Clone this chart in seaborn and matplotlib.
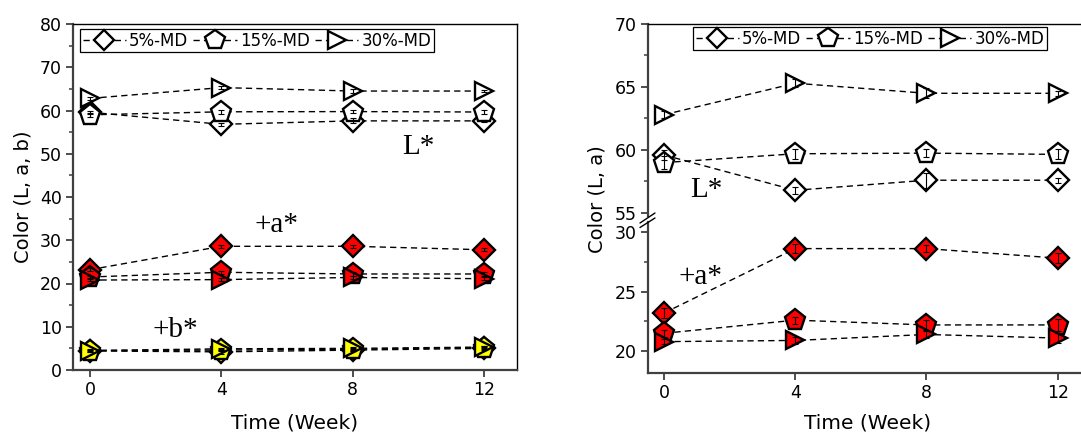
import numpy as np
import matplotlib
matplotlib.use("Agg")
import matplotlib.pyplot as plt
from matplotlib.lines import Line2D
from matplotlib.ticker import MultipleLocator
import seaborn as sns

# ---- data -------------------------------------------------------------
weeks = [0, 4, 8, 12]
groups = ["5%-MD", "15%-MD", "30%-MD"]

L_5 = [59.6, 56.8, 57.6, 57.6]
L_15 = [59.0, 59.7, 59.75, 59.65]
L_30 = [62.8, 65.3, 64.5, 64.5]

a_5 = [23.2, 28.6, 28.6, 27.8]
a_15 = [21.5, 22.6, 22.2, 22.2]
a_30 = [20.8, 20.9, 21.4, 21.1]

b_5 = [4.4, 4.2, 4.6, 5.0]
b_15 = [4.5, 4.6, 4.8, 5.2]
b_30 = [4.5, 4.9, 5.0, 5.3]

L_5_err = [0.4, 0.3, 0.6, 0.2]
L_15_err = [0.5, 0.4, 0.3, 0.4]
L_30_err = [0.3, 0.3, 0.4, 0.2]
a_5_err = [0.4, 0.4, 0.3, 0.4]
a_15_err = [0.3, 0.3, 0.4, 0.5]
a_30_err = [0.2, 0.3, 0.3, 0.4]
b_5_err = [0.3, 0.4, 0.3, 0.3]
b_15_err = [0.3, 0.3, 0.4, 0.3]
b_30_err = [0.2, 0.3, 0.3, 0.3]

L_series = [L_5, L_15, L_30]
a_series = [a_5, a_15, a_30]
b_series = [b_5, b_15, b_30]
L_errs = [L_5_err, L_15_err, L_30_err]
a_errs = [a_5_err, a_15_err, a_30_err]
b_errs = [b_5_err, b_15_err, b_30_err]

# ---- style ------------------------------------------------------------
sns.set_style("ticks")
plt.rcParams["font.family"] = ["DejaVu Sans"]
plt.rcParams["text.color"] = "black"
plt.rcParams["axes.labelcolor"] = "black"
plt.rcParams["xtick.labelcolor"] = "black"
plt.rcParams["ytick.labelcolor"] = "black"

W, H = 1081, 441
fig = plt.figure(figsize=(W / 100, H / 100), dpi=100)

markers = ["D", "p", ">"]
msizes = [11, 15.5, 13.5]
dash = (0, (4.5, 3))
SPINE = "#404040"
TICK_FS = 12.5
LABEL_FS = 14


def fx(px):
    return px / W


def fy(py):
    return 1 - py / H


def draw_series(ax, series, errs, face):
    for vals, err, mk, ms in zip(series, errs, markers, msizes):
        sns.lineplot(x=weeks, y=vals, ax=ax, color="black", linewidth=1.0,
                     linestyle=dash, marker=mk, markersize=ms,
                     markerfacecolor=face, markeredgecolor="black",
                     markeredgewidth=1.7, errorbar=None, legend=False,
                     zorder=3)
        ax.errorbar(weeks, vals, yerr=err, fmt="none", ecolor="black",
                    elinewidth=0.8, capsize=2.5, capthick=0.8, zorder=4)


def style_axis(ax):
    for side in ("left", "bottom"):
        ax.spines[side].set_color(SPINE)
        ax.spines[side].set_linewidth(1.6)
    for side in ("top", "right"):
        ax.spines[side].set_color("black")
        ax.spines[side].set_linewidth(1.0)
    ax.tick_params(which="major", direction="out", length=5, width=1.3,
                   color=SPINE, labelsize=TICK_FS, labelcolor="black", pad=3)
    ax.tick_params(which="minor", direction="out", length=3, width=1.1,
                   color=SPINE)
    ax.tick_params(axis="x", which="minor", length=0)
    ax.set_xlabel("")
    ax.set_ylabel("")


def legend_handles():
    hs = []
    for mk, ms, name in zip(markers, msizes, groups):
        hs.append(Line2D([], [], color="black", linewidth=1.0, linestyle=dash,
                         marker=mk, markersize=ms * 0.95, markerfacecolor="white",
                         markeredgecolor="black", markeredgewidth=1.7,
                         label=name))
    return hs


def add_legend(anchor_px):
    leg = fig.legend(handles=legend_handles(), loc="upper left",
                     bbox_to_anchor=(fx(anchor_px[0]), fy(anchor_px[1])),
                     bbox_transform=fig.transFigure, ncol=3, fontsize=12,
                     frameon=True, fancybox=False, edgecolor="black",
                     framealpha=1, borderpad=0.15, borderaxespad=0,
                     handlelength=2.6, handletextpad=0.2,
                     columnspacing=0.3, markerscale=1.0)
    leg.get_frame().set_linewidth(0.9)
    for t in leg.get_texts():
        t.set_color("black")
    return leg


# ---- left panel: L*, a*, b* ---------------------------------------------
axL = fig.add_axes([fx(73), fy(370), fx(517 - 73), (370 - 24) / H])
draw_series(axL, L_series, L_errs, "white")
draw_series(axL, a_series, a_errs, "#ff0000")
draw_series(axL, b_series, b_errs, "#ffff00")
axL.set_xlim(-0.52, 13.0)
axL.set_ylim(0, 80)
axL.set_xticks(weeks)
axL.yaxis.set_major_locator(MultipleLocator(10))
axL.yaxis.set_minor_locator(MultipleLocator(5))
style_axis(axL)

serif = ["Liberation Serif", "DejaVu Serif"]
axL.text(9.5, 51.5, "L*", family=serif, fontsize=21, ha="left", va="center",
         color="black")
axL.text(5.0, 33.5, "+a*", family=serif, fontsize=21, ha="left", va="center",
         color="black")
axL.text(1.9, 9.2, "+b*", family=serif, fontsize=21, ha="left", va="center",
         color="black")

add_legend((80, 29))

fig.text(fx(23), fy(197), "Color (L, a, b)", rotation=90, ha="center",
         va="center", fontsize=LABEL_FS, color="black")
fig.text(fx(295), fy(423), "Time (Week)", ha="center", va="center",
         fontsize=LABEL_FS + 0.5, color="black")

# ---- right panel: broken axis, L* above and a* below ------------------
xlim_r = (-0.49, 12.71)
axU = fig.add_axes([fx(648), fy(216), 1 - fx(648), (216 - 24) / H])
axB = fig.add_axes([fx(648), fy(373), 1 - fx(648), (373 - 222) / H])

draw_series(axU, L_series, L_errs, "white")
draw_series(axB, a_series, a_errs, "#ff0000")

for ax in (axU, axB):
    ax.set_xlim(*xlim_r)
    ax.set_xticks(weeks)
    ax.yaxis.set_major_locator(MultipleLocator(5))
    ax.yaxis.set_minor_locator(MultipleLocator(2.5))
    style_axis(ax)
    ax.spines["right"].set_visible(False)

axU.set_ylim(54.76, 70)
axB.set_ylim(18.17, 30.83)
axU.spines["bottom"].set_visible(False)
axU.tick_params(axis="x", which="both", bottom=False, labelbottom=False)
axB.spines["top"].set_visible(False)

axU.text(0.8, 56.8, "L*", family=serif, fontsize=21, ha="left", va="center",
         color="black")
axB.text(0.43, 26.2, "+a*", family=serif, fontsize=21, ha="left", va="center",
         color="black")

# break marks on the left spine
for y0, y1 in ((223, 213), (227.5, 218)):
    fig.add_artist(Line2D([fx(640), fx(655)], [fy(y0), fy(y1)],
                          transform=fig.transFigure, color="black",
                          linewidth=1.0))

add_legend((693, 27))

fig.text(fx(597), fy(199), "Color (L, a)", rotation=90, ha="center",
         va="center", fontsize=LABEL_FS, color="black")
fig.text(fx(868), fy(423), "Time (Week)", ha="center", va="center",
         fontsize=LABEL_FS + 0.5, color="black")

fig.savefig("out.png", dpi=100)
